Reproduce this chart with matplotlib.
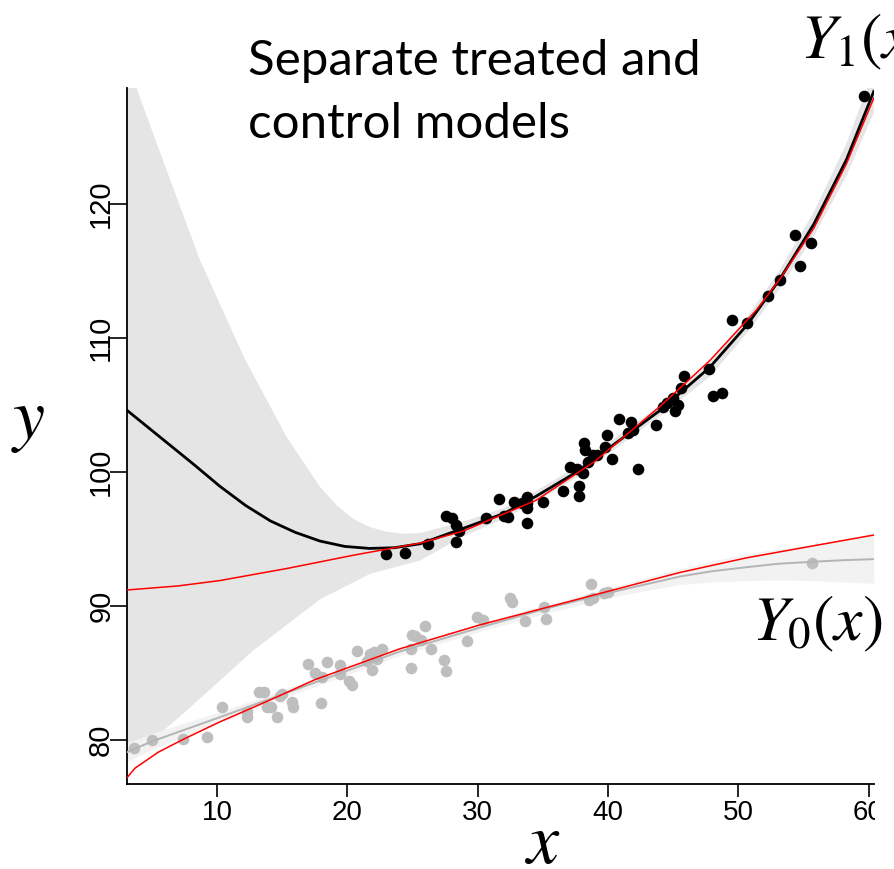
# separate treated / control model fits, with true curves in red

import numpy as np
import matplotlib.pyplot as plt
from matplotlib.patches import Rectangle

# treated units (black)
treated_x = [22.97, 24.43, 26.19, 27.57, 28.04, 28.34, 28.57, 28.34, 30.64, 31.64,
             32.03, 32.33, 32.79, 33.41, 33.79, 33.79, 33.79, 33.79, 35.02, 36.55,
             37.09, 37.63, 37.78, 37.78, 38.09, 38.17, 38.24, 38.47, 38.86, 39.16,
             39.78, 39.93, 40.31, 40.85, 41.54, 41.77, 41.93, 42.31, 43.69, 44.23,
             44.54, 45.00, 45.15, 45.38, 45.61, 45.84, 47.76, 48.07, 48.76, 49.52,
             50.68, 52.29, 53.21, 54.36, 54.74, 55.59, 59.65]
treated_y = [93.88, 93.96, 94.63, 96.72, 96.57, 96.04, 95.60, 94.78, 96.57, 97.99,
             96.72, 96.64, 97.76, 97.69, 98.13, 97.69, 97.31, 96.19, 97.76, 98.58,
             100.37, 100.22, 98.96, 98.21, 99.93, 102.16, 101.64, 100.75, 101.27, 101.27,
             101.87, 102.76, 100.97, 103.96, 102.91, 103.73, 103.13, 100.22, 103.51, 104.85,
             105.15, 105.52, 104.55, 105.00, 106.27, 107.16, 107.69, 105.67, 105.90, 111.34,
             111.12, 113.13, 114.33, 117.69, 115.37, 117.09, 128.06]

# control units (grey)
control_x = [3.63, 5.01, 7.39, 9.23, 10.38, 12.30, 12.30, 13.22, 13.61, 13.84,
             14.14, 14.60, 14.84, 14.99, 15.76, 15.83, 16.98, 17.52, 17.98, 18.06,
             18.44, 19.44, 19.44, 20.13, 20.36, 20.74, 21.51, 21.74, 21.90, 22.05,
             22.28, 22.66, 24.89, 24.89, 24.97, 25.20, 25.66, 25.96, 26.42, 27.42,
             27.57, 29.19, 29.95, 30.41, 32.49, 32.64, 33.64, 35.10, 35.25, 38.70,
             38.55, 38.86, 39.70, 40.01, 55.66]
control_y = [79.40, 80.00, 80.07, 80.22, 82.46, 82.09, 81.72, 83.58, 83.58, 82.46,
             82.46, 81.72, 83.28, 83.43, 82.84, 82.46, 85.67, 85.00, 82.76, 84.70,
             85.82, 85.60, 84.93, 84.40, 84.10, 86.64, 85.90, 86.42, 85.22, 86.57,
             86.04, 86.79, 86.79, 85.37, 87.84, 87.76, 87.46, 88.51, 86.79, 85.97,
             85.15, 87.39, 89.18, 88.96, 90.60, 90.30, 88.88, 89.93, 89.03, 91.64,
             90.45, 90.60, 90.97, 91.04, 93.21]

# fitted treated model and its band
fit1_x = [3.1, 6.4, 8.3, 10.2, 12.2, 14.1, 16.0, 17.9, 19.8, 21.7, 23.6, 25.6, 28.9,
          32.0, 34.5, 37.6, 39.4, 44.0, 47.8, 50.7, 53.2, 55.8, 58.3, 60.4]
fit1_y = [104.6, 102.0, 100.5, 98.95, 97.5, 96.35, 95.5, 94.85, 94.45, 94.3, 94.35,
          94.65, 95.8, 96.9, 98.2, 100.0, 101.3, 104.6, 107.8, 111.0, 114.4, 118.5,
          123.3, 128.4]
band1_up_x = [3.1, 3.84, 6.14, 8.7, 12.15, 15.35, 17.9, 19.2, 20.46, 21.7, 23.0, 24.3,
              25.6, 28.9, 32.0, 34.5, 37.6, 39.4, 44.0, 47.8, 50.7, 53.2, 55.8, 58.3, 60.4]
band1_up_y = [130.5, 128.6, 122.5, 115.8, 108.4, 102.6, 98.9, 97.5, 96.5, 95.9, 95.55,
              95.4, 95.45, 96.3, 97.3, 98.6, 100.4, 101.7, 105.0, 108.1, 111.6, 115.1,
              119.4, 124.5, 130.0]
band1_lo_x = [3.1, 7.67, 12.8, 17.9, 21.74, 25.58, 28.9, 32.0, 34.5, 37.6,
              39.4, 44.0, 47.8, 50.7, 53.2, 55.8, 58.3, 60.4]
band1_lo_y = [78.4, 82.2, 86.7, 90.5, 92.4, 93.4, 95.2, 96.5, 97.8, 99.6,
              100.9, 104.2, 107.1, 110.4, 113.7, 117.6, 122.1, 126.8]

# fitted control model and its band
fit0_x = [3.1, 5.0, 10.2, 16.4, 24.0, 30.2, 35.0, 39.9, 45.5, 48.0, 50.65, 53.0, 55.6, 58.0, 60.4]
fit0_y = [79.1, 79.9, 81.7, 83.9, 86.6, 88.4, 89.75, 90.95, 92.2, 92.6, 92.9, 93.15, 93.3, 93.42, 93.5]
band0_up = [79.8, 80.5, 82.1, 84.2, 86.9, 88.7, 90.05, 91.3, 92.8, 93.35, 93.9, 94.25, 94.6, 94.95, 95.3]
band0_lo = [78.4, 79.3, 81.3, 83.6, 86.3, 88.1, 89.4, 90.6, 91.6, 91.8, 91.9, 91.95, 91.9, 91.8, 91.7]

# true response curves
true1_x = [3.1, 7.0, 10.2, 15.35, 20.5, 25.6, 28.9, 34.5, 39.0, 44.0,
           47.8, 51.4, 53.2, 55.8, 58.3, 60.4]
true1_y = [91.2, 91.5, 91.9, 92.8, 93.8, 94.7, 95.6, 97.9, 100.8, 104.9,
           108.3, 112.1, 114.4, 118.2, 123.0, 127.9]
true0_x = [3.1, 3.7, 5.5, 7.4, 10.2, 14.1, 17.5, 24.0, 30.2, 39.9, 45.5, 50.65, 55.8, 60.4]
true0_y = [77.2, 77.9, 79.1, 80.05, 81.35, 83.0, 84.5, 86.8, 88.6, 91.07, 92.5, 93.6, 94.5, 95.3]

xticks = [10, 20, 30, 40, 50, 60]
yticks = [80, 90, 100, 110, 120]

fig = plt.figure(figsize=(8.94, 8.69), dpi=100)
ax = fig.add_axes([127/894, 85/869, 747/894, 696/869])

ax.fill(np.concatenate([band1_up_x, band1_lo_x[::-1]]),
        np.concatenate([band1_up_y, band1_lo_y[::-1]]),
        color='#e5e5e5', lw=0, zorder=1)
ax.fill_between(fit0_x, band0_lo, band0_up, color='#f2f2f2', lw=0, zorder=2)

ax.scatter(control_x, control_y, s=70, c='#bebebe', linewidths=0, zorder=3)
ax.scatter(treated_x, treated_y, s=70, c='black', linewidths=0, zorder=3)

ax.plot(fit0_x, fit0_y, color='#b4b4b4', lw=1.4, zorder=4)
ax.plot(fit1_x, fit1_y, color='black', lw=2.0, zorder=4)
ax.plot(true1_x, true1_y, color='red', lw=1.1, zorder=5)
ax.plot(true0_x, true0_y, color='red', lw=1.1, zorder=5)

ax.set_xlim(3.09, 60.42)
ax.set_ylim(76.72, 128.66)
ax.set_xticks(xticks)
ax.set_yticks(yticks)
ax.set_xticklabels([str(t) for t in xticks], fontfamily='Liberation Sans', fontsize=20)
ax.set_yticklabels([str(t) for t in yticks], fontfamily='Liberation Sans', fontsize=21,
                   rotation=90, va='center')
ax.tick_params(axis='x', length=9.5, width=1.2, pad=2)
ax.tick_params(axis='y', length=12.5, width=1.2, pad=-4)
for side in ['top', 'right']:
    ax.spines[side].set_visible(False)
for side in ['left', 'bottom']:
    ax.spines[side].set_linewidth(1.3)

plt.rcParams['mathtext.fontset'] = 'stix'
fig.text(543/894, 6/869, r'$x$', fontsize=52, ha='center', va='baseline')
fig.text(28/894, 431/869, r'$y$', fontsize=52, ha='center', va='baseline')
fig.text(800/894, (869-58)/869, r'$Y_1(x)$', fontsize=46, ha='left', va='baseline')
fig.text(752/894, (869-640)/869, r'$Y_0(x)$', fontsize=46, ha='left', va='baseline')

fig.text(248/894, (869-75)/869, 'Separate treated and', fontfamily='Lato',
         fontsize=35.5, ha='left', va='baseline')
fig.text(248/894, (869-138)/869, 'control models', fontfamily='Lato',
         fontsize=35.5, ha='left', va='baseline')

# the picture is cropped right after the x axis
fig.patches.append(Rectangle((875/894, 0), 19/894, 82/869, transform=fig.transFigure,
                             facecolor='white', edgecolor='none', zorder=10))

plt.savefig('out.png')
plt.close()
